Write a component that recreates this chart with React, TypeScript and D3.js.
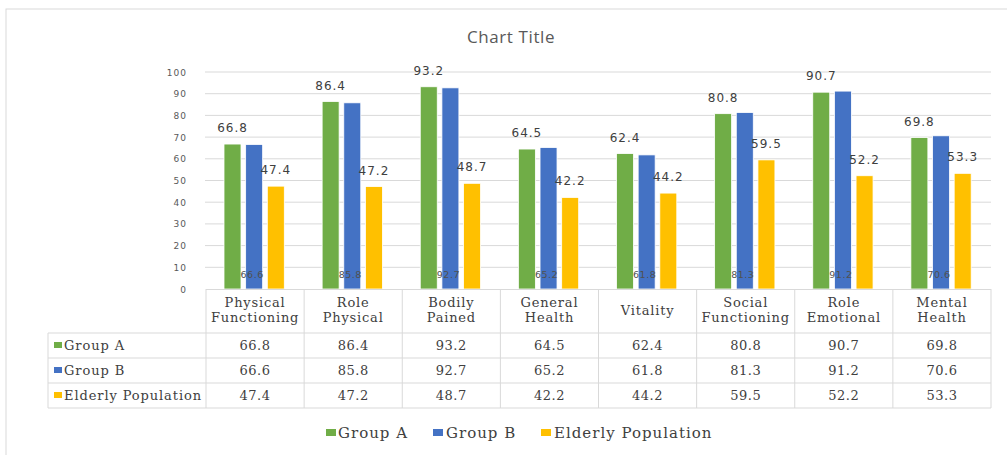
import React from 'react';
import * as d3 from 'd3';

const categories = ['Physical Functioning', 'Role Physical', 'Bodily Pained', 'General Health', 'Vitality', 'Social Functioning', 'Role Emotional', 'Mental Health'];
const headerLines = [['Physical', 'Functioning'], ['Role', 'Physical'], ['Bodily', 'Pained'], ['General', 'Health'], ['Vitality'], ['Social', 'Functioning'], ['Role', 'Emotional'], ['Mental', 'Health']];
const seriesNames = ['Group A', 'Group B', 'Elderly Population'];
const groupA = [66.8, 86.4, 93.2, 64.5, 62.4, 80.8, 90.7, 69.8];
const groupB = [66.6, 85.8, 92.7, 65.2, 61.8, 81.3, 91.2, 70.6];
const elderly = [47.4, 47.2, 48.7, 42.2, 44.2, 59.5, 52.2, 53.3];
const colors = ['#70AD47', '#4472C4', '#FFC000'];
const yTicks = [0, 10, 20, 30, 40, 50, 60, 70, 80, 90, 100];

const W = 1007;
const H = 455;

export default function App() {
  const series = [groupA, groupB, elderly];
  const x = d3.scaleBand<string>().domain(categories).range([206, 991]);
  const x1 = d3.scaleBand<string>().domain(seriesNames).range([18, 78.3]).paddingInner(0.215);
  const y = d3.scaleLinear().domain([0, 100]).range([289, 72]);

  const tableLeft = 48;
  const tableRight = 991;
  const headerBottom = 333;
  const rowH = 25;
  const rowTops = seriesNames.map((_, i) => headerBottom + i * rowH);
  const tableBottom = headerBottom + seriesNames.length * rowH;
  const bounds = categories.map(c => x(c) as number).concat([x.range()[1]]);

  const grey = '#d9d9d9';
  const text = '#404040';
  const serif = '"DejaVu Serif", serif';
  const sans = '"DejaVu Sans", sans-serif';

  const legendItems = [
    { name: seriesNames[0], sx: 326, tx: 338 },
    { name: seriesNames[1], sx: 433, tx: 446 },
    { name: seriesNames[2], sx: 541, tx: 554 },
  ];

  return (
    <svg width={W} height={H} style={{ position: 'absolute', left: 0, top: 0, background: '#fff' }}>
      <rect x={6} y={9} width={W + 20} height={H + 20} fill="#fff" stroke={grey} />
      <text x={511} y={43} textAnchor="middle" fontFamily='"Open Sans", sans-serif' fontSize={17} letterSpacing={0.6} fill="#595959">Chart Title</text>

      {/* gridlines + y labels */}
      {yTicks.map(t => (
        <g key={t}>
          {t > 0 && <line x1={205} x2={991} y1={y(t)} y2={y(t)} stroke={grey} />}
          <text x={187} y={y(t) + 3.5} textAnchor="end" fontFamily={sans} fontSize={9} letterSpacing={1} fill="#595959">{t}</text>
        </g>
      ))}

      {/* bars */}
      {series.map((vals, si) => (
        <g key={si}>
          {vals.map((v, ci) => (
            <rect key={ci}
              x={(x(categories[ci]) as number) + (x1(seriesNames[si]) as number)}
              y={y(v)} width={x1.bandwidth()} height={y(0) - y(v)}
              fill={colors[si]} stroke="#fff" strokeWidth={0.8} />
          ))}
        </g>
      ))}

      {/* data labels */}
      {series.map((vals, si) => (
        <g key={'l' + si}>
          {vals.map((v, ci) => {
            const cx = (x(categories[ci]) as number) + (x1(seriesNames[si]) as number) + x1.bandwidth() / 2;
            if (si === 1) {
              return <text key={ci} x={cx - 2} y={278} textAnchor="middle" fontFamily={sans} fontSize={9.5} letterSpacing={0.5} fill="#505050">{v}</text>;
            }
            return <text key={ci} x={cx} y={y(v) - 12} textAnchor="middle" fontFamily={sans} fontSize={12} letterSpacing={1} fill={text}>{v}</text>;
          })}
        </g>
      ))}

      {/* x axis line */}
      <line x1={206} x2={991} y1={289.5} y2={289.5} stroke={grey} />

      {/* data table */}
      {bounds.map((bx, i) => (
        <line key={'v' + i} x1={bx} x2={bx} y1={289} y2={tableBottom} stroke={grey} />
      ))}
      <line x1={tableLeft} x2={tableLeft} y1={headerBottom} y2={tableBottom} stroke={grey} />
      {rowTops.concat([tableBottom]).map((ry, i) => (
        <line key={'h' + i} x1={tableLeft} x2={tableRight} y1={ry} y2={ry} stroke={grey} />
      ))}
      {headerLines.map((lines, ci) => {
        const cx = (x(categories[ci]) as number) + x.bandwidth() / 2;
        const y0 = lines.length === 1 ? 315 : 307;
        return (
          <text key={'hd' + ci} textAnchor="middle" fontFamily={serif} fontSize={13} letterSpacing={0.8} fill={text}>
            {lines.map((ln, li) => <tspan key={li} x={cx} y={y0 + li * 15}>{ln}</tspan>)}
          </text>
        );
      })}
      {seriesNames.map((name, si) => (
        <g key={'r' + si}>
          <rect x={54} y={rowTops[si] + 9} width={8} height={6} fill={colors[si]} />
          <text x={64} y={rowTops[si] + 17} fontFamily={serif} fontSize={13} letterSpacing={0.9} fill={text}>{name}</text>
          {series[si].map((v, ci) => (
            <text key={ci} x={(x(categories[ci]) as number) + x.bandwidth() / 2} y={rowTops[si] + 17}
              textAnchor="middle" fontFamily={serif} fontSize={13} letterSpacing={0.5} fill={text}>{v}</text>
          ))}
        </g>
      ))}

      {/* legend */}
      {legendItems.map((it, i) => (
        <g key={'lg' + i}>
          <rect x={it.sx} y={429} width={10} height={7} fill={colors[i]} />
          <text x={it.tx} y={438} fontFamily={serif} fontSize={15} letterSpacing={1} fill={text}>{it.name}</text>
        </g>
      ))}
    </svg>
  );
}
